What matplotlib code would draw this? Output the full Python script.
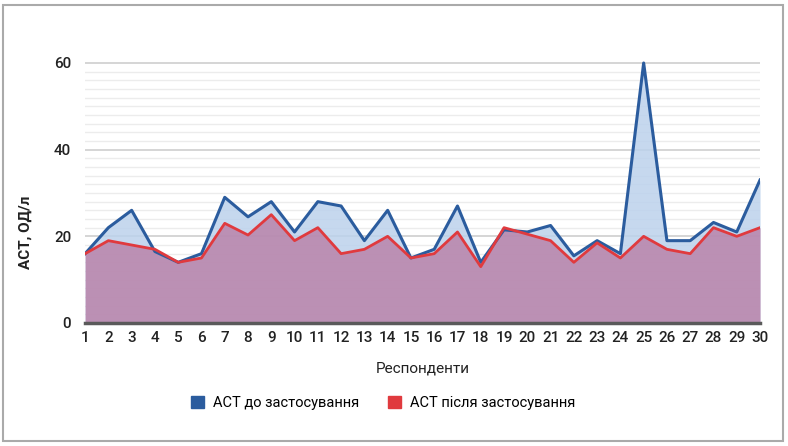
import numpy as np
import matplotlib.pyplot as plt
from matplotlib.patches import Patch, Rectangle

respondents = list(range(1, 31))
ast_before = [16, 22, 26, 16.5, 14, 16, 29, 24.5, 28, 21,
              28, 27, 19, 26, 15, 17, 27, 14, 21.5, 21,
              22.5, 15.5, 19, 16, 60, 19, 19, 23.2, 21, 33]
ast_after = [16, 19, 18, 17, 14, 15, 23, 20.3, 25, 19,
             22, 16, 17, 20, 15, 16, 21, 13, 22, 20.5,
             19, 14, 18.5, 15, 20, 17, 16, 22, 20, 22]

label_before = "АСТ до застосування"
label_after = "АСТ після застосування"

blue = "#2b5c9e"
red = "#e03a3e"

plt.rcParams['font.family'] = ['Roboto', 'DejaVu Sans']

fig = plt.figure(figsize=(7.88, 4.46), dpi=100)
ax = fig.add_axes([0.108, 0.2758, 0.8565, 0.5888])

# grid: thin light lines every 2, darker at 20s
for v in np.arange(2, 61, 2):
    c = "#d2d2d2" if v % 20 == 0 else "#ececec"
    lw = 1.3 if v % 20 == 0 else 1.0
    ax.axhline(v, color=c, lw=lw, zorder=0)

x = np.array(respondents)
ax.fill_between(x, ast_before, 0, color="#bcd2ec", alpha=0.85, zorder=1, lw=0)
ax.fill_between(x, ast_after, 0, color="#b8749e", alpha=0.72, zorder=2, lw=0)
ax.plot(x, ast_before, color=blue, lw=2.2, zorder=4)
ax.plot(x, ast_after, color=red, lw=2.0, zorder=5)

ax.set_xlim(1, 30)
ax.set_ylim(0, 60.6)
ax.set_xticks(respondents)
ax.set_yticks([0, 20, 40, 60])
for s in ["top", "right", "left"]:
    ax.spines[s].set_visible(False)
ax.spines["bottom"].set_color("#5a5a5a")
ax.spines["bottom"].set_linewidth(2.5)
ax.spines["bottom"].set_zorder(6)
ax.tick_params(axis="both", length=0, labelsize=11, colors="#222222")
ax.tick_params(axis="x", pad=6)
ax.tick_params(axis="y", pad=10)
for t in ax.get_xticklabels() + ax.get_yticklabels():
    t.set_fontweight("medium")

ax.set_xlabel("Респонденти", fontsize=11, labelpad=12, color="#222222")
fig.text(0.032, 0.48, "АСТ, ОД/л", rotation=90, fontsize=11,
         fontweight="bold", ha="center", va="center", color="#222222")

handles = [Patch(color=blue, label=label_before),
           Patch(color=red, label=label_after)]
fig.legend(handles=handles, loc="center", bbox_to_anchor=(0.486, 0.097),
           ncol=2, frameon=False, fontsize=10.5, handlelength=0.9,
           handleheight=0.9, columnspacing=2.0, handletextpad=0.6)

# outer border
fig.patches.append(Rectangle((0.004, 0.011), 0.99, 0.978, transform=fig.transFigure,
                             fill=False, edgecolor="#aaaaaa", lw=1.5))

fig.savefig("out.png", dpi=100)
